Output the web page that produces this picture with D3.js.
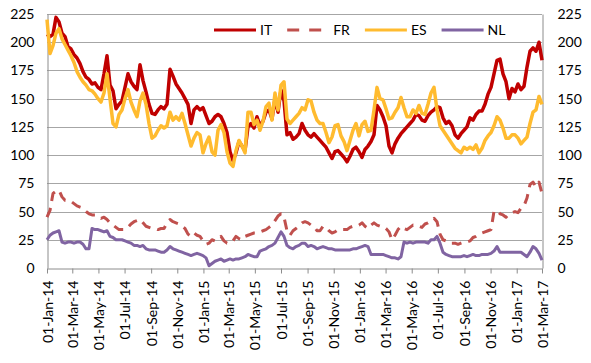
<!DOCTYPE html>
<html>
<head>
<meta charset="utf-8">
<script src="https://cdn.jsdelivr.net/npm/d3@7/dist/d3.min.js"></script>
<style>
  body { margin: 0; background: #fff; }
  svg { display: block; font-family: Lato, "Open Sans", sans-serif; }
</style>
</head>
<body>
<div id="chart"></div>
<script>
// weekly readings, 01-Jan-14 .. 01-Mar-17
const dates = ("2014-01-01 2014-01-08 2014-01-15 2014-01-22 2014-01-29 2014-02-05 2014-02-12 2014-02-19 2014-02-26 " +
  "2014-03-05 2014-03-12 2014-03-19 2014-03-26 2014-04-02 2014-04-09 2014-04-16 2014-04-23 2014-04-30 " +
  "2014-05-07 2014-05-14 2014-05-21 2014-05-28 2014-06-04 2014-06-11 2014-06-18 2014-06-25 " +
  "2014-07-02 2014-07-09 2014-07-16 2014-07-23 2014-07-30 2014-08-06 2014-08-13 2014-08-20 2014-08-27 " +
  "2014-09-03 2014-09-10 2014-09-17 2014-09-24 2014-10-01 2014-10-08 2014-10-15 2014-10-22 2014-10-29 " +
  "2014-11-05 2014-11-12 2014-11-19 2014-11-26 2014-12-03 2014-12-10 2014-12-17 2014-12-24 2014-12-31 " +
  "2015-01-07 2015-01-14 2015-01-21 2015-01-28 2015-02-04 2015-02-11 2015-02-18 2015-02-25 " +
  "2015-03-04 2015-03-11 2015-03-18 2015-03-25 2015-04-01 2015-04-08 2015-04-15 2015-04-22 2015-04-29 " +
  "2015-05-06 2015-05-13 2015-05-20 2015-05-27 2015-06-03 2015-06-10 2015-06-17 2015-06-24 " +
  "2015-07-01 2015-07-08 2015-07-15 2015-07-22 2015-07-29 2015-08-05 2015-08-12 2015-08-19 2015-08-26 " +
  "2015-09-02 2015-09-09 2015-09-16 2015-09-23 2015-09-30 2015-10-07 2015-10-14 2015-10-21 2015-10-28 " +
  "2015-11-04 2015-11-11 2015-11-18 2015-11-25 2015-12-02 2015-12-09 2015-12-16 2015-12-23 2015-12-30 " +
  "2016-01-06 2016-01-13 2016-01-20 2016-01-27 2016-02-03 2016-02-10 2016-02-17 2016-02-24 " +
  "2016-03-02 2016-03-09 2016-03-16 2016-03-23 2016-03-30 2016-04-06 2016-04-13 2016-04-20 2016-04-27 " +
  "2016-05-04 2016-05-11 2016-05-18 2016-05-25 2016-06-01 2016-06-08 2016-06-15 2016-06-22 2016-06-29 " +
  "2016-07-06 2016-07-13 2016-07-20 2016-07-27 2016-08-03 2016-08-10 2016-08-17 2016-08-24 2016-08-31 " +
  "2016-09-07 2016-09-14 2016-09-21 2016-09-28 2016-10-05 2016-10-12 2016-10-19 2016-10-26 " +
  "2016-11-02 2016-11-09 2016-11-16 2016-11-23 2016-11-30 2016-12-07 2016-12-14 2016-12-21 2016-12-28 " +
  "2017-01-04 2017-01-11 2017-01-18 2017-01-25 2017-02-01 2017-02-08 2017-02-15 2017-02-22 2017-03-01").split(" ");

const IT = [
  207,205,207,222,218,208,205,196,194,189,
  186,181,174,169,167,163,164,160,158,172,
  188,162,157,141,145,148,160,172,165,161,
  158,180,166,156,145,137,136,140,143,141,
  145,176,170,163,159,155,150,145,128,140,
  143,140,142,135,128,130,134,136,134,128,
  120,103,95,102,112,108,104,125,128,124,
  134,126,130,138,140,132,150,138,158,148,
  118,120,114,116,119,128,122,118,116,119,
  116,113,110,107,102,97,103,104,101,98,
  94,99,105,107,103,98,105,108,112,118,
  144,140,134,126,108,102,110,115,119,122,
  125,128,131,136,135,131,130,135,138,140,
  143,142,133,128,130,126,118,115,119,122,
  125,133,131,136,139,139,145,154,160,172,
  184,185,172,165,150,159,156,163,158,161,
  178,192,195,192,200,184
];
const FR = [
  45,51,66,68,69,63,60,60,59,57,
  55,54,53,50,48,47,47,46,44,45,
  43,40,38,36,34,34,34,36,39,41,
  42,43,40,37,36,35,35,34,35,35,
  40,43,41,40,39,37,35,30,28,31,
  29,28,24,21,22,25,24,26,28,24,
  22,22,24,28,26,25,28,29,30,31,
  31,32,33,34,36,38,42,46,48,45,
  33,29,33,35,37,40,41,40,38,37,
  33,33,37,36,33,31,32,34,34,34,
  34,36,37,37,38,40,37,35,38,40,
  38,37,37,35,32,25,29,34,37,35,
  34,36,38,37,37,36,39,40,42,44,
  41,30,25,24,22,22,22,21,22,23,
  23,24,27,28,30,31,32,33,34,50,
  51,48,47,45,48,49,50,49,53,55,
  62,74,76,72,76,66
];
const ES = [
  220,190,197,208,212,203,198,193,188,182,
  174,169,165,162,158,157,154,150,147,155,
  172,150,128,125,136,140,150,158,147,140,
  134,148,155,145,128,115,117,122,126,124,
  126,138,131,134,131,137,128,118,108,115,
  120,118,102,110,116,103,100,122,127,120,
  103,93,90,104,113,108,102,138,138,127,
  131,122,130,143,146,131,155,140,162,165,
  132,128,131,134,137,142,140,149,148,138,
  131,128,128,120,111,116,126,127,117,112,
  104,113,122,128,117,127,130,121,122,140,
  160,150,149,141,132,133,138,142,151,142,
  134,134,140,137,144,137,136,145,155,160,
  140,126,122,118,114,110,106,104,102,107,
  105,107,105,109,102,106,113,117,120,126,
  134,131,124,115,115,118,118,115,110,113,
  116,128,138,140,152,145
];
const NL = [
  25,29,31,32,33,23,22,23,23,22,
  23,23,21,17,17,35,34,34,33,32,
  33,28,27,25,25,25,24,23,22,20,
  20,19,20,17,16,16,16,15,14,14,
  16,19,17,16,15,14,13,12,11,12,
  13,12,11,9,2,4,6,7,8,6,
  7,8,7,8,8,9,10,12,11,10,
  10,15,16,17,19,20,22,27,32,28,
  20,18,17,19,20,22,22,19,20,19,
  17,18,19,18,17,17,16,16,16,16,
  16,16,17,17,18,19,20,19,12,12,
  12,12,12,11,10,9,9,8,10,23,
  22,23,22,23,23,23,23,22,25,25,
  28,22,14,12,11,10,10,10,10,11,
  10,11,12,11,11,12,12,12,13,15,
  19,14,14,14,14,14,14,14,14,12,
  10,14,19,17,13,7
];

const yTicks = [0, 25, 50, 75, 100, 125, 150, 175, 200, 225];
const xTicks = ["2014-01-01", "2014-03-01", "2014-05-01", "2014-07-01", "2014-09-01", "2014-11-01",
  "2015-01-01", "2015-03-01", "2015-05-01", "2015-07-01", "2015-09-01", "2015-11-01",
  "2016-01-01", "2016-03-01", "2016-05-01", "2016-07-01", "2016-09-01", "2016-11-01",
  "2017-01-01", "2017-03-01"];

const series = [
  { name: "IT", values: IT, color: "#c00000", dash: null, w: 3.5 },
  { name: "FR", values: FR, color: "#c0504d", dash: "10,7", w: 3 },
  { name: "ES", values: ES, color: "#ffbb2f", dash: null, w: 3.5 },
  { name: "NL", values: NL, color: "#8064a2", dash: null, w: 3 }
];

const W = 591, H = 363;
const L = 47, R = 542, T = 14, B = 268;
const parse = d3.timeParse("%Y-%m-%d");
const axisColor = "#8c8c8c", gridColor = "#a6a6a6";

const svg = d3.select("#chart").append("svg")
  .attr("width", W)
  .attr("height", H);

const x = d3.scaleTime()
  .domain([parse(xTicks[0]), parse(xTicks[xTicks.length - 1])])
  .range([L, R]);
const y = d3.scaleLinear().domain([0, 225]).range([B, T]);

// gridlines
svg.append("g")
  .selectAll("line")
  .data(yTicks.filter(d => d > 0))
  .join("line")
  .attr("x1", L).attr("x2", R)
  .attr("y1", d => Math.round(y(d)) + 0.5)
  .attr("y2", d => Math.round(y(d)) + 0.5)
  .attr("stroke", gridColor)
  .attr("stroke-width", 1);

function styleAxis(g) {
  g.select(".domain").attr("stroke", axisColor);
  g.selectAll(".tick line").attr("stroke", axisColor);
  g.selectAll("text")
    .attr("fill", "#000")
    .attr("font-size", 14)
    .attr("font-family", "Lato, 'Open Sans', sans-serif");
}

svg.append("g")
  .attr("transform", `translate(${L + 0.5},0)`)
  .call(d3.axisLeft(y).tickValues(yTicks).tickSize(0).tickPadding(13))
  .call(styleAxis);

svg.append("g")
  .attr("transform", `translate(${R + 0.5},0)`)
  .call(d3.axisRight(y).tickValues(yTicks).tickSize(0).tickPadding(15))
  .call(styleAxis);

const xAxis = svg.append("g")
  .attr("transform", `translate(0,${B + 0.5})`)
  .call(d3.axisBottom(x)
    .tickValues(xTicks.map(parse))
    .tickSize(5)
    .tickSizeOuter(0)
    .tickFormat(d3.timeFormat("%d-%b-%y")))
  .call(styleAxis);

xAxis.selectAll(".tick text")
  .attr("transform", "rotate(-90)")
  .attr("text-anchor", "end")
  .attr("x", -12)
  .attr("y", 0)
  .attr("dy", "0.36em");

// lines
const line = d3.line()
  .x((d, i) => x(parse(dates[i])))
  .y(d => y(d));

svg.append("g")
  .selectAll("path")
  .data(series)
  .join("path")
  .attr("d", d => line(d.values))
  .attr("fill", "none")
  .attr("stroke", d => d.color)
  .attr("stroke-width", d => d.w)
  .attr("stroke-linejoin", "round")
  .attr("stroke-dasharray", d => d.dash);

// legend
const legend = svg.append("g").attr("font-size", 14);
let lx = 214;
series.forEach(s => {
  legend.append("line")
    .attr("x1", lx).attr("x2", lx + 42)
    .attr("y1", 30).attr("y2", 30)
    .attr("stroke", s.color)
    .attr("stroke-width", 3)
    .attr("stroke-dasharray", s.dash ? "12,10" : null);
  const t = legend.append("text")
    .attr("x", lx + 46)
    .attr("y", 30)
    .attr("dy", "0.36em")
    .attr("fill", "#000")
    .text(s.name);
  lx += 46 + t.node().getComputedTextLength() + 15;
});
</script>
</body>
</html>
